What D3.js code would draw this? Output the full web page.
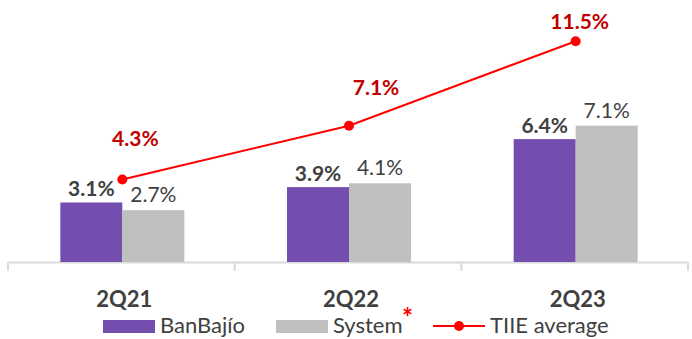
<!DOCTYPE html>
<html>
<head>
<meta charset="utf-8">
<script src="https://cdn.jsdelivr.net/npm/d3@7"></script>
<style>
  html, body { margin: 0; padding: 0; background: #fff; }
  svg { display: block; font-family: Lato, "Open Sans", sans-serif; }
</style>
</head>
<body>
<svg id="chart" width="692" height="339"></svg>
<script>
// Quarters and rates (%)
const categories = ["2Q21", "2Q22", "2Q23"];
const banbajio = [3.1, 3.9, 6.4];
const system = [2.7, 4.1, 7.1];
const tiie = [4.3, 7.1, 11.5];

const purple = "#744EAF";
const grey = "#BFBFBF";
const red = "#FF0000";
const darkRed = "#C00000";
const textCol = "#404040";
const axisCol = "#D9D9D9";

const svg = d3.select("#chart");
const baseY = 262;

const x = d3.scaleBand().domain(categories).range([8, 688]).padding(0);
const y = d3.scaleLinear().domain([0, 12.5]).range([baseY, baseY - 240]);
const barW = 62;
const cx = c => x(c) + x.bandwidth() / 2 + 1;

// Category axis with tick marks at band edges
const axis = svg.append("g");
axis.append("line")
  .attr("x1", x.range()[0]).attr("x2", x.range()[1])
  .attr("y1", baseY + 0.5).attr("y2", baseY + 0.5)
  .attr("stroke", axisCol).attr("stroke-width", 2);
const edges = categories.map(c => x(c)).concat([x.range()[1]]);
axis.selectAll("line.tick").data(edges).join("line")
  .attr("class", "tick")
  .attr("x1", d => d).attr("x2", d => d)
  .attr("y1", baseY).attr("y2", baseY + 9)
  .attr("stroke", axisCol).attr("stroke-width", 2);
axis.selectAll("text").data(categories).join("text")
  .attr("x", d => cx(d) + 2).attr("y", 307)
  .attr("text-anchor", "middle")
  .attr("font-size", 22).attr("font-weight", "bold")
  .attr("fill", textCol)
  .text(d => d);

// Bars
svg.append("g").selectAll("rect").data(banbajio).join("rect")
  .attr("x", (d, i) => cx(categories[i]) - barW)
  .attr("y", d => y(d))
  .attr("width", barW).attr("height", d => baseY - y(d))
  .attr("fill", purple);
svg.append("g").selectAll("rect").data(system).join("rect")
  .attr("x", (d, i) => cx(categories[i]))
  .attr("y", d => y(d))
  .attr("width", barW).attr("height", d => baseY - y(d))
  .attr("fill", grey);

// Bar value labels
svg.append("g").selectAll("text").data(banbajio).join("text")
  .attr("x", (d, i) => cx(categories[i]) - barW / 2)
  .attr("y", d => y(d) - 6)
  .attr("text-anchor", "middle")
  .attr("font-size", 21).attr("font-weight", "bold")
  .attr("fill", textCol)
  .text(d => d.toFixed(1) + "%");
svg.append("g").selectAll("text").data(system).join("text")
  .attr("x", (d, i) => cx(categories[i]) + barW / 2)
  .attr("y", d => y(d) - 8)
  .attr("text-anchor", "middle")
  .attr("font-size", 21)
  .attr("fill", textCol)
  .text(d => d.toFixed(1) + "%");

// TIIE average line
const line = d3.line().x((d, i) => cx(categories[i])).y(d => y(d));
svg.append("path").datum(tiie)
  .attr("d", line)
  .attr("fill", "none").attr("stroke", red).attr("stroke-width", 2);
svg.append("g").selectAll("circle").data(tiie).join("circle")
  .attr("cx", (d, i) => cx(categories[i]))
  .attr("cy", d => y(d))
  .attr("r", 5).attr("fill", red);

// Label placement offsets for the TIIE values
const tiieLabelShift = [[13, -33], [27, -31], [4, -12]];
svg.append("g").selectAll("text").data(tiie).join("text")
  .attr("x", (d, i) => cx(categories[i]) + tiieLabelShift[i][0])
  .attr("y", (d, i) => y(d) + tiieLabelShift[i][1])
  .attr("text-anchor", "middle")
  .attr("font-size", 21).attr("font-weight", "bold")
  .attr("fill", darkRed)
  .text(d => d.toFixed(1) + "%");

// Legend
const legY = 333;
const lg = svg.append("g").attr("font-size", 22).attr("fill", textCol);
lg.append("rect").attr("x", 103).attr("y", legY - 13).attr("width", 52).attr("height", 13).attr("fill", purple);
lg.append("text").attr("x", 160).attr("y", legY).attr("fill", textCol).text("BanBajío");
lg.append("rect").attr("x", 276).attr("y", legY - 13).attr("width", 52).attr("height", 13).attr("fill", grey);
lg.append("text").attr("x", 333).attr("y", legY).attr("fill", textCol).text("System");
lg.append("text").attr("x", 402).attr("y", legY - 6).attr("fill", red)
  .attr("font-size", 26).attr("font-weight", "bold").text("*");
lg.append("line").attr("x1", 433).attr("x2", 485).attr("y1", legY - 7).attr("y2", legY - 7)
  .attr("stroke", red).attr("stroke-width", 2);
lg.append("circle").attr("cx", 459).attr("cy", legY - 7).attr("r", 5).attr("fill", red);
lg.append("text").attr("x", 490).attr("y", legY).attr("fill", textCol).text("TIIE average");
</script>
</body>
</html>
